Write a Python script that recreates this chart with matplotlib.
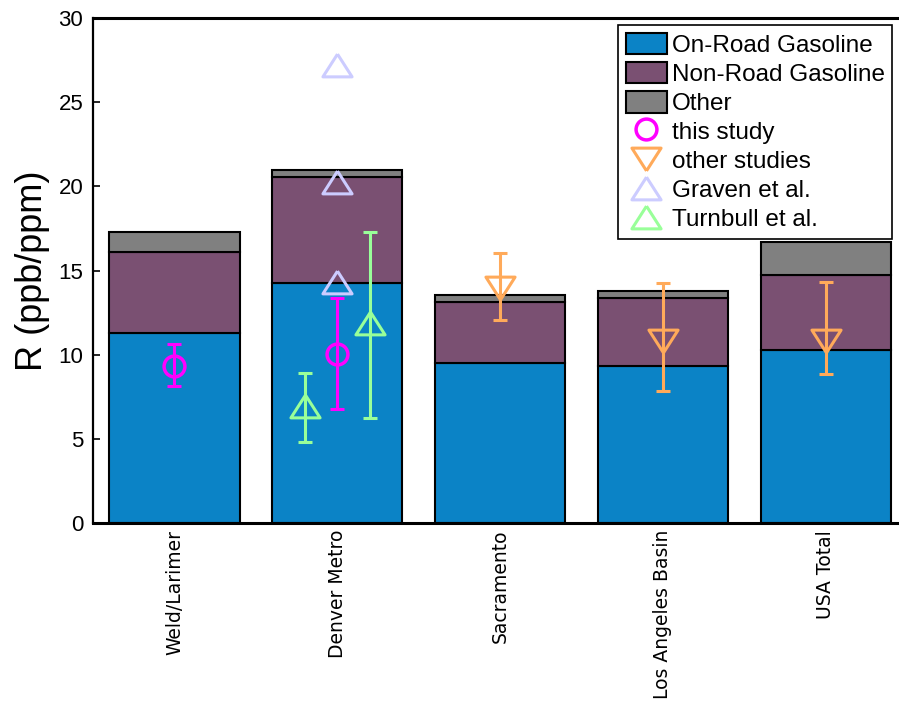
import numpy as np
import matplotlib
matplotlib.use('Agg')
from matplotlib import pyplot as plt

# ---- data ----
regions = ['Weld/Larimer', 'Denver Metro', 'Sacramento', 'Los Angeles Basin', 'USA Total']
onroad = [11.27, 14.24, 9.52, 9.33, 10.28]
nonroad_top = [16.12, 20.58, 13.15, 13.35, 14.73]
total_top = [17.31, 21.0, 13.55, 13.78, 16.67]

# this study: region index, value, low, high
this_idx = [0, 1]
this_val = [9.34, 10.04]
this_lo = [8.16, 6.77]
this_hi = [10.62, 13.35]

# other studies
other_idx = [2, 3, 4]
other_val = [13.94, 10.81, 10.81]
other_lo = [12.06, 7.84, 8.87]
other_hi = [16.02, 14.28, 14.34]

# Graven et al. (Denver, no error bars)
graven_idx = [1, 1, 1]
graven_val = [27.2, 20.26, 14.3]

# Turnbull et al. (Denver, offset either side)
turn_idx = [1, 1]
turn_off = [-0.2, 0.2]
turn_val = [6.97, 11.86]
turn_lo = [4.83, 6.22]
turn_hi = [8.89, 17.27]

c_on = '#0b83c6'
c_non = '#7a5072'
c_oth = '#808080'
c_this = '#ff00ff'
c_other = '#ffaa5a'
c_grav = '#ccccff'
c_turn = '#99ff99'

plt.rcParams['font.family'] = ['Liberation Sans', 'DejaVu Sans']

fig = plt.figure(figsize=(8.99, 7.03), dpi=100)
ax = fig.add_axes([93/899, 1 - 523/703, 1 - 93/899, (523 - 18)/703])

x = np.arange(1, len(regions) + 1)
onroad = np.array(onroad)
nonroad = np.array(nonroad_top) - onroad
other = np.array(total_top) - np.array(nonroad_top)

w = 0.8
h_on = ax.bar(x, onroad, w, color=c_on, edgecolor='black', linewidth=1.5,
              label='On-Road Gasoline')
h_non = ax.bar(x, nonroad, w, bottom=onroad, color=c_non, edgecolor='black',
               linewidth=1.5, label='Non-Road Gasoline')
h_oth = ax.bar(x, other, w, bottom=np.array(nonroad_top), color=c_oth,
               edgecolor='black', linewidth=1.5, label='Other')

# flattened triangles like the original
tri_up = [(0, 0.78), (-1, -0.78), (1, -0.78), (0, 0.78)]
tri_dn = [(0, -0.78), (-1, 0.78), (1, 0.78), (0, -0.78)]

def errs(v, lo, hi):
    v = np.array(v)
    return [v - np.array(lo), np.array(hi) - v]

ebkw = dict(fmt='none', elinewidth=2.2, capsize=4.7, capthick=2.2, zorder=3)

xs = x[this_idx]
ax.errorbar(xs, this_val, yerr=errs(this_val, this_lo, this_hi), ecolor=c_this, **ebkw)
h_this, = ax.plot(xs, this_val, 'o', ms=15, mfc='none', mec=c_this, mew=2.5,
                  ls='none', zorder=4, label='this study')

xs = x[other_idx]
ax.errorbar(xs, other_val, yerr=errs(other_val, other_lo, other_hi), ecolor=c_other, **ebkw)
h_other, = ax.plot(xs, other_val, marker=tri_dn, ms=21, mfc='none', mec=c_other,
                   mew=2.2, ls='none', zorder=4, label='other studies')

h_grav, = ax.plot(x[graven_idx], graven_val, marker=tri_up, ms=21, mfc='none',
                  mec=c_grav, mew=2.2, ls='none', zorder=4, label='Graven et al.')

xs = x[turn_idx] + np.array(turn_off)
ax.errorbar(xs, turn_val, yerr=errs(turn_val, turn_lo, turn_hi), ecolor=c_turn, **ebkw)
h_turn, = ax.plot(xs, turn_val, marker=tri_up, ms=21, mfc='none', mec=c_turn,
                  mew=2.2, ls='none', zorder=4, label='Turnbull et al.')

ax.set_xlim(0.5, 5.45)
ax.set_ylim(0, 30)
ax.set_yticks([0, 5, 10, 15, 20, 25, 30])
ax.tick_params(axis='y', direction='in', length=5, width=1.2, labelsize=16, pad=7)
ax.tick_params(axis='x', length=0, pad=5)
ax.set_xticks(x)
ax.set_xticklabels(regions, rotation=90, fontsize=13.5, family='DejaVu Sans', va='top')
ax.set_ylabel('R (ppb/ppm)', fontsize=26, labelpad=6)

ax.spines['right'].set_visible(False)
ax.spines['left'].set_linewidth(1.6)
ax.spines['bottom'].set_linewidth(2.2)
ax.spines['top'].set_linewidth(2.2)

handles = [h_on, h_non, h_oth, h_this, h_other, h_grav, h_turn]
leg = ax.legend(handles=handles, loc='upper right', bbox_to_anchor=(0.9975, 0.995),
                fontsize=17.5, labelspacing=0.2, handlelength=1.7, handleheight=1.0,
                handletextpad=0.2, borderpad=0.3, borderaxespad=0.2,
                fancybox=False, framealpha=1, edgecolor='black')
leg.get_frame().set_linewidth(1.2)

plt.savefig('out.png', dpi=100)
plt.close()
